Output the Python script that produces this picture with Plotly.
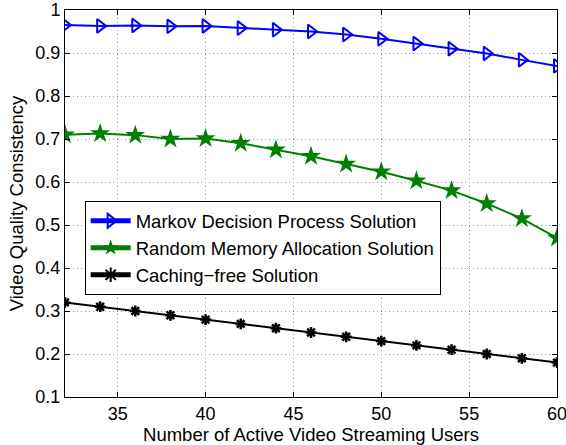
import plotly.graph_objects as go

users = [32, 34, 36, 38, 40, 42, 44, 46, 48, 50, 52, 54, 56, 58, 60]
mdp = [0.965, 0.963, 0.964, 0.962, 0.963, 0.958, 0.954, 0.950, 0.943, 0.933, 0.922, 0.910, 0.899, 0.884, 0.870]
rma = [0.710, 0.713, 0.709, 0.700, 0.701, 0.690, 0.675, 0.660, 0.642, 0.624, 0.603, 0.580, 0.550, 0.515, 0.470]
cfree = [0.32, 0.31, 0.30, 0.29, 0.28, 0.27, 0.26, 0.25, 0.24, 0.23, 0.22, 0.21, 0.20, 0.19, 0.18]

names = ["Markov Decision Process Solution", "Random Memory Allocation Solution", "Caching\u2212free Solution"]
xticks = [35, 40, 45, 50, 55, 60]
yticks = [0.1, 0.2, 0.3, 0.4, 0.5, 0.6, 0.7, 0.8, 0.9, 1]

fig = go.Figure()
fig.add_trace(go.Scatter(x=users, y=mdp, name=names[0], mode="lines+markers",
                         line=dict(color="#0000ff", width=2),
                         marker=dict(symbol="triangle-right-open", size=12, color="#0000ff",
                                     line=dict(width=2, color="#0000ff"))))
fig.add_trace(go.Scatter(x=users, y=rma, name=names[1], mode="lines+markers",
                         line=dict(color="#008000", width=2),
                         marker=dict(symbol="star", size=15, color="#008000",
                                     line=dict(width=0))))
fig.add_trace(go.Scatter(x=users, y=cfree, name=names[2], mode="lines+markers",
                         line=dict(color="#000000", width=2),
                         marker=dict(symbol="asterisk-open", size=9, color="#000000",
                                     line=dict(width=2.5, color="#000000"))))

axis_common = dict(showline=True, linecolor="black", linewidth=1, mirror="ticks",
                   ticks="inside", ticklen=5, tickcolor="black",
                   showgrid=True, gridcolor="#9a9a9a", griddash="1px,3px", gridwidth=1,
                   zeroline=False, tickfont=dict(size=18, color="black"),
                   ticklabeloverflow="allow", automargin=False)

fig.update_xaxes(range=[32, 60], tickvals=xticks,
                 title=dict(text="Number of Active Video Streaming Users", font=dict(size=18.5, color="black"), standoff=2),
                 **axis_common)
fig.update_yaxes(range=[0.1, 1], tickvals=yticks, ticktext=[f"{v:g}" for v in yticks],
                 title=dict(text="Video Quality Consistency", font=dict(size=18.5, color="black"), standoff=6),
                 **axis_common)

fig.update_layout(
    width=566, height=445,
    margin=dict(l=65, r=9, t=10, b=48),
    plot_bgcolor="white", paper_bgcolor="white",
    font=dict(family="Liberation Sans, Arial, sans-serif", color="black"),
    legend=dict(x=0.04, y=0.506, xanchor="left", yanchor="top",
                bgcolor="white", bordercolor="black", borderwidth=1,
                font=dict(size=18.5), tracegroupgap=0, itemsizing="constant", itemwidth=40),
)

fig.write_html("out.html", config={"displayModeBar": False},
               post_script="document.body.style.margin='0';document.body.style.overflow='hidden';")
